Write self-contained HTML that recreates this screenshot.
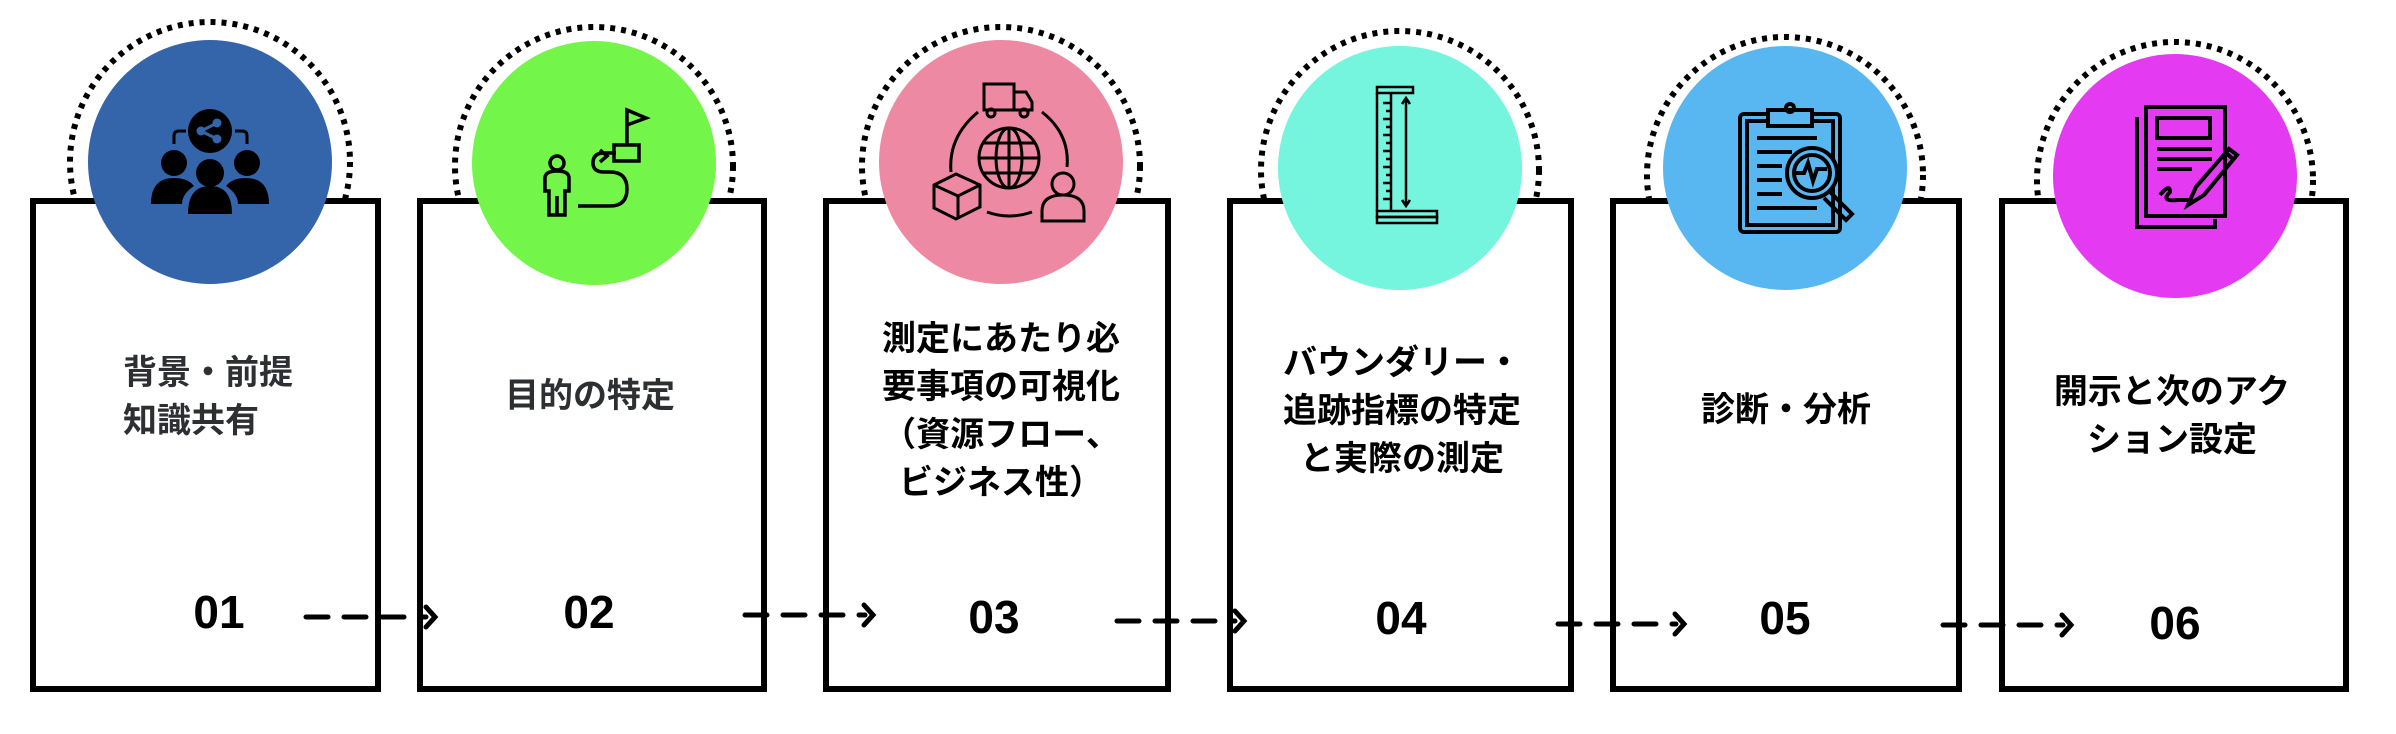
<!DOCTYPE html>
<html><head><meta charset="utf-8"><style>
html,body{margin:0;padding:0;background:#fff;}
body{width:2396px;height:734px;position:relative;overflow:hidden;font-family:"Liberation Sans","Noto Sans CJK JP",sans-serif;}
svg{position:absolute;left:0;top:0;}
.t{position:absolute;font-weight:bold;font-size:34px;line-height:48px;text-align:center;color:#000;white-space:nowrap;transform:translate(-50%,-50%);font-family:"Noto Sans CJK JP",sans-serif;}
.n{position:absolute;font-weight:bold;font-size:46px;transform:translate(-50%,-50%);font-family:"Liberation Sans",sans-serif;}
</style></head><body>
<svg width="2396" height="734" viewBox="0 0 2396 734">
<g fill="none" stroke="#000" stroke-width="6" stroke-dasharray="5 6">
<circle cx="210" cy="162" r="140"/>
<circle cx="594" cy="166" r="139"/>
<circle cx="1001" cy="166" r="139"/>
<circle cx="1400" cy="170" r="139"/>
<circle cx="1785" cy="175" r="138"/>
<circle cx="2175" cy="180" r="138"/>
</g>
<g fill="#fff" stroke="#000" stroke-width="6">
<rect x="33" y="201" width="345" height="488"/>
<rect x="420" y="201" width="344" height="488"/>
<rect x="826" y="201" width="342" height="488"/>
<rect x="1230" y="201" width="341" height="488"/>
<rect x="1613" y="201" width="346" height="488"/>
<rect x="2002" y="201" width="344" height="488"/>
</g>
<circle cx="210" cy="162" r="122" fill="#3465AA"/>
<circle cx="594" cy="163" r="122" fill="#73F54A"/>
<circle cx="1001" cy="162" r="122" fill="#ED89A2"/>
<circle cx="1400" cy="168" r="122" fill="#75F5DD"/>
<circle cx="1785" cy="168" r="122" fill="#58B7F0"/>
<circle cx="2175" cy="176" r="122" fill="#E43AF2"/>
<!-- icon 1: people share -->
<g fill="#000">
<circle cx="210" cy="131" r="22"/>
<circle cx="174" cy="163" r="13"/><circle cx="247" cy="163" r="13"/><circle cx="210" cy="173" r="14"/>
<path d="M151 204 q0-26 23-26 q14 0 20 8 q-12 8-12 18z"/>
<path d="M269 204 q0-26-23-26 q-14 0-20 8 q12 8 12 18z"/>
<path d="M188 214 q0-28 22-28 q22 0 22 28z"/>
</g>
<g stroke="#3465AA" stroke-width="3" fill="#3465AA"><circle cx="201" cy="131" r="3"/><circle cx="217" cy="123" r="3"/><circle cx="217" cy="139" r="3"/><path d="M201 131L217 123M201 131L217 139"/></g>
<g stroke="#000" stroke-width="3" fill="none"><path d="M174 144v-8q0-5 5-5h7M247 144v-8q0-5-5-5h-7"/></g>
<!-- icon 2 -->
<g stroke="#000" stroke-width="3.5" fill="none">
<circle cx="557" cy="163" r="7"/>
<path d="M545 191v-13q0-7 12-7q12 0 12 7v13h-4v24h-16v-24z M557 196v19"/>
<path d="M578 206h32q17 0 17-17q0-17-17-17h-6q-11 0-11-9q0-10 11-10h12M600 150l7 6-7 6"/>
<rect x="614" y="145" width="25" height="16"/>
<path d="M627 145v-35l19 8-19 7"/>
</g>
<!-- icon 3 -->
<g stroke="#000" stroke-width="3" fill="none">
<circle cx="1009" cy="158" r="30"/><ellipse cx="1009" cy="158" rx="13" ry="30"/><path d="M979 158h60M983 143h52M983 173h52M1009 128v60"/>
<path d="M978 112q-30 25-27 60M1042 112q28 22 25 55M987 212q22 8 45 0"/>
<rect x="984" y="84" width="30" height="26"/><path d="M1014 92h12l6 10v8h-18"/><circle cx="991" cy="113" r="4"/><circle cx="1024" cy="113" r="4"/>
<path d="M934 185l22-11 24 11v22l-24 12-22-11z M934 185l24 11 22-11 M958 196v23"/>
<circle cx="1063" cy="184" r="11"/><path d="M1042 221v-10q0-16 21-16q21 0 21 16v10z"/>
</g>
<!-- icon 4 ruler -->
<g stroke="#000" stroke-width="2.5" fill="none">
<rect x="1377" y="87" width="36" height="6"/><path d="M1377 93v118M1391 93v118"/><rect x="1377" y="211" width="60" height="6"/><rect x="1377" y="217" width="60" height="6"/>
<path d="M1406 98v108M1402 104l4-6 4 6M1402 200l4 6 4-6"/>
<path d="M1383 103h8M1386 111h5M1383 119h8M1386 127h5M1383 135h8M1386 143h5M1383 151h8M1386 159h5M1383 167h8M1386 175h5M1383 183h8M1386 191h5M1383 199h8"/>
</g>
<!-- icon 5 clipboard -->
<g stroke="#000" stroke-width="4" fill="none">
<rect x="1740" y="114" width="100" height="118" rx="4"/><rect x="1747" y="121" width="86" height="104"/>
<rect x="1768" y="110" width="44" height="16" fill="#58B7F0"/><circle cx="1790" cy="108" r="4"/>
<path d="M1757 138h60M1757 152h35M1757 166h25M1757 180h25M1757 194h25M1757 208h60"/>
<circle cx="1812" cy="173" r="25" fill="#58B7F0"/><circle cx="1812" cy="173" r="18"/>
<path d="M1796 173h8l4-10 5 18 4-12h10"/><path d="M1830 192l22 22-6 6-22-22"/>
</g>
<!-- icon 6 doc pen -->
<g stroke="#000" stroke-width="4" fill="none">
<path d="M2137 117v110h78v-8"/><rect x="2146" y="107" width="79" height="109"/>
<rect x="2157" y="118" width="53" height="20"/><path d="M2157 149h55M2157 159h55M2157 169h35"/>
<path d="M2160 195q10-12 10-3q-10 10 8 8q2 0 12 0M2188 205l8-18 33-38 8 6-33 40z M2225 152l8 7"/>
</g>
<!-- arrows -->
<g stroke="#000" stroke-width="5" fill="none" stroke-linecap="round">
<path d="M306 617h120" stroke-dasharray="22 16"/><path d="M426 607l9 10-9 10"/>
<path d="M745 615h120" stroke-dasharray="22 16"/><path d="M864 605l9 10-9 10"/>
<path d="M1117 621h118" stroke-dasharray="22 16"/><path d="M1235 611l9 10-9 10"/>
<path d="M1558 624h118" stroke-dasharray="22 16"/><path d="M1675 614l9 10-9 10"/>
<path d="M1943 625h120" stroke-dasharray="22 16"/><path d="M2062 615l9 10-9 10"/>
</g>
</svg>
<div class="t" style="left:123px;top:394px;color:#2d2f33;text-align:left;transform:translate(0,-50%);">背景・前提<br>知識共有</div>
<div class="t" style="left:590px;top:393px;color:#2d2f33;">目的の特定</div>
<div class="t" style="left:1001px;top:408px;">測定にあたり必<br>要事項の可視化<br>（資源フロー、<br>ビジネス性）</div>
<div class="t" style="left:1402px;top:408px;">バウンダリー・<br>追跡指標の特定<br>と実際の測定</div>
<div class="t" style="left:1786px;top:407px;">診断・分析</div>
<div class="t" style="left:2172px;top:413px;">開示と次のアク<br>ション設定</div>
<div class="n" style="left:219px;top:612px;">01</div>
<div class="n" style="left:589px;top:612px;">02</div>
<div class="n" style="left:994px;top:617px;">03</div>
<div class="n" style="left:1401px;top:618px;">04</div>
<div class="n" style="left:1785px;top:618px;">05</div>
<div class="n" style="left:2175px;top:623px;">06</div>
</body></html>
